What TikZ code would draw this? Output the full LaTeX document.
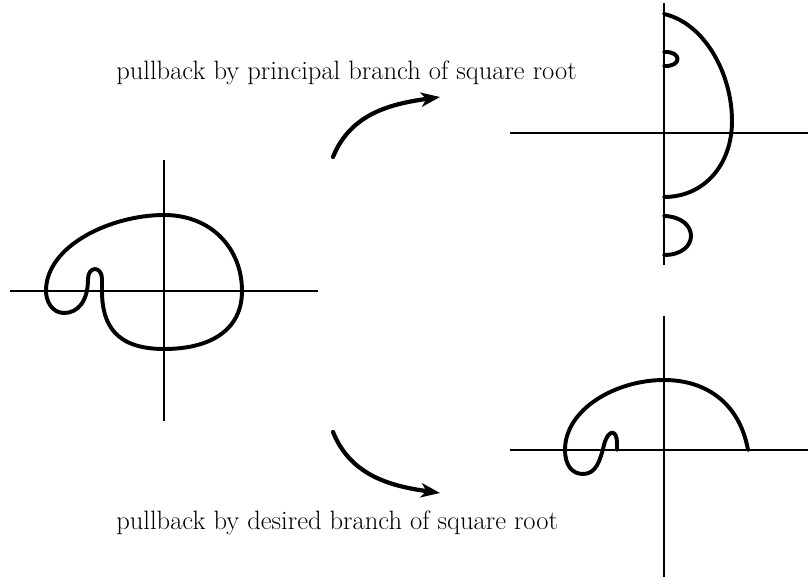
\documentclass[tikz,border=0pt]{standalone}
\usepackage{tikz}
\usetikzlibrary{arrows.meta,positioning}

\begin{document}
\begin{tikzpicture}[
  axisline/.style={line width=1.4pt,draw=black},
  curveline/.style={line width=2.8pt,draw=black,line join=round,line cap=round},
  maparrow/.style={-{Stealth[length=4.8mm,width=3.6mm,inset=1.4mm]},line width=3pt,line cap=round},
  caption/.style={font=\fontsize{18.9}{23}\selectfont,anchor=west,inner sep=0pt}
]
\useasboundingbox (0,0) rectangle (20.2,14.425);

% original curve
\begin{scope}
  \coordinate (wO) at (0.25,7.15);
  \coordinate (eO) at (7.95,7.15);
  \coordinate (nO) at (4.1,10.425);
  \coordinate (sO) at (4.1,3.9);

  \draw[axisline] (wO)--(eO)
                  (nO)--(sO);

  \draw[curveline] (4.1,9.05) .. controls (5.3,9.05) and (6.05,8.2) .. (6.05,7.15)
    .. controls (6.05,6.2) and (5.3,5.7) .. (4.1,5.7)
    .. controls (2.9,5.7) and (2.55,6.3) .. (2.55,7.15)
    -- (2.55,7.45) .. controls (2.55,7.78) and (2.2,7.78) .. (2.2,7.45)
    .. controls (2.2,6.9) and (1.95,6.6) .. (1.6,6.6)
    .. controls (1.3,6.6) and (1.15,6.9) .. (1.15,7.15)
    .. controls (1.15,8.3) and (2.8,9.05) .. (4.1,9.05) -- cycle;
\end{scope}

% principal branch
\begin{scope}
  \coordinate (wP) at (12.75,11.1);
  \coordinate (eP) at (20.2,11.1);
  \coordinate (nP) at (16.6,14.35);
  \coordinate (sP) at (16.6,7.8);

  \draw[axisline] (wP)--(eP)
                  (nP)--(sP);

  \draw[curveline] (16.6,14.075) .. controls (17.6,13.85) and (18.3,12.6) .. (18.3,11.4)
    .. controls (18.3,10.3) and (17.6,9.5) .. (16.6,9.5);
  \draw[curveline] (16.6,13.125) .. controls (17.05,13.15) and (17.05,12.75) .. (16.6,12.775);
  \draw[curveline] (16.6,9.025) .. controls (17.5,9.0) and (17.5,8.05) .. (16.6,8.05);
\end{scope}

% desired branch
\begin{scope}
  \coordinate (wD) at (12.75,3.175);
  \coordinate (eD) at (20.2,3.175);
  \coordinate (nD) at (16.6,6.525);
  \coordinate (sD) at (16.6,0);

  \draw[axisline] (wD)--(eD)
                  (nD)--(sD);

  \draw[curveline] (18.7,3.175) .. controls (18.5,4.3) and (17.7,4.925) .. (16.6,4.925)
    .. controls (15.4,4.925) and (14.125,4.2) .. (14.125,3.175)
    .. controls (14.125,2.8) and (14.3,2.575) .. (14.575,2.575)
    .. controls (14.9,2.575) and (15.0,2.9) .. (15.1,3.3)
    .. controls (15.2,3.7) and (15.425,3.7) .. (15.425,3.35)
    -- (15.425,3.175);
\end{scope}

\coordinate (upS) at (8.325,10.5);
\coordinate (upE) at (11.0,12.0);
\coordinate (dnS) at (8.325,3.625);
\coordinate (dnE) at (11.0,2.1);

\draw[maparrow] (upS) to[out=68,in=188] (upE);
\draw[maparrow] (dnS) to[out=-68,in=172] (dnE);

\node[caption] (capP) at (2.9,12.6) {pullback by principal branch of square root};
\node[caption] (capD) at (2.9,1.35) {pullback by desired branch of square root};

\end{tikzpicture}
\end{document}
